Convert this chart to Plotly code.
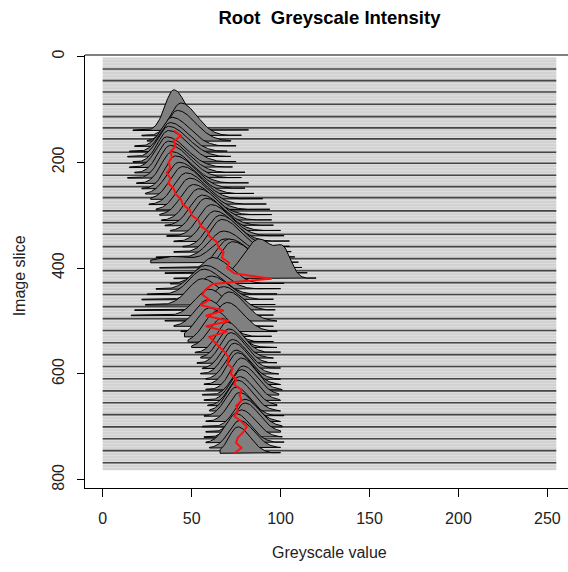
import numpy as np
import plotly.graph_objects as go

# ---------------- data ----------------
slice_y = [140, 150, 160, 170, 180, 190, 200, 210, 220, 230, 240, 250, 260, 270, 280,
           290, 300, 310, 320, 330, 340, 350, 360, 370, 380, 390, 400, 410, 420, 430,
           440, 450, 460, 470, 480, 490, 500, 510, 520, 530, 540, 550, 560, 570, 580,
           590, 600, 610, 620, 630, 640, 650, 660, 670, 680, 690, 700, 710, 720, 730,
           740, 750]
# position of each ridge's peak (greyscale value)
peak_x = [40, 44, 42, 39, 38, 37, 37, 36, 37, 38, 39, 41, 43, 45, 47,
          49, 51, 54, 56, 58, 61, 63, 66, 67, 68, 69, 71, 73, 88, 62,
          58, 57, 61, 56, 68, 60, 71, 59, 70, 60, 64, 67, 70, 71, 72,
          73, 74, 75, 76, 78, 79, 78, 77, 76, 75, 77, 80, 80, 78, 75,
          77, 76]
# ridge height (image-slice units)
peak_h = [77, 62, 58, 55, 55, 58, 60, 58, 60, 62, 60, 62, 60, 62, 60,
          60, 58, 60, 58, 62, 60, 58, 60, 62, 50, 45, 55, 60, 75, 50,
          45, 48, 45, 50, 45, 50, 55, 50, 55, 55, 58, 55, 58, 55, 58,
          55, 58, 55, 60, 60, 55, 58, 55, 58, 55, 55, 52, 55, 52, 55,
          52, 50]
# spread left / right of the peak
spread_l = [5, 6, 6, 6, 6, 6, 6, 6, 6, 6, 6, 6, 7, 7, 7,
            7, 7, 7, 7, 7, 7, 7, 7, 7, 8, 8, 7, 7, 9, 8,
            8, 8, 8, 8, 8, 8, 7, 7, 7, 7, 7, 7, 6, 6, 6,
            6, 6, 6, 6, 6, 6, 6, 6, 6, 6, 6, 6, 6, 6, 6,
            6, 5]
spread_r = [7, 9, 10, 10, 10, 11, 11, 11, 11, 11, 11, 11, 11, 11, 11,
            11, 11, 11, 11, 11, 11, 11, 11, 11, 11, 12, 12, 12, 9, 10,
            10, 10, 10, 10, 9, 9, 9, 9, 9, 9, 8, 8, 8, 8, 8,
            8, 8, 8, 8, 8, 8, 8, 8, 8, 8, 8, 8, 8, 8, 8,
            8, 7]
# secondary bump (0 height = none)
bump_x = [0] * 25 + [40, 0, 0, 102] + [0] * 33
bump_h = [0] * 25 + [12, 0, 0, 38] + [0] * 33
bump_s = [1] * 25 + [10, 1, 1, 4] + [1] * 33
# extent of the low tails at each baseline
tail_lo = [17, 22, 25, 18, 15, 14, 17, 15, 18, 14, 19, 22, 24, 27, 26,
           30, 32, 33, 35, 38, 36, 40, 45, 40, 30, 27, 32, 35, 40, 38,
           30, 25, 22, 24, 18, 16, 35, 40, 44, 46, 48, 50, 52, 55, 53,
           56, 55, 58, 57, 58, 56, 57, 59, 60, 57, 58, 56, 58, 57, 58,
           60, 66]
tail_hi = [82, 78, 72, 75, 70, 72, 75, 73, 80, 78, 82, 80, 85, 90, 92,
           94, 95, 95, 96, 100, 102, 105, 105, 106, 108, 110, 112, 115, 120, 102,
           100, 98, 96, 97, 97, 96, 98, 96, 98, 95, 96, 98, 100, 96, 98,
           100, 99, 100, 100, 101, 99, 100, 98, 100, 102, 100, 101, 100, 101, 102,
           100, 100]
# red trace through the slices
red_x = [40, 44, 40, 41, 38, 39, 37, 38, 36, 38, 37, 40, 41, 44, 45,
         49, 50, 54, 55, 59, 60, 64, 65, 68, 67, 71, 70, 74, 95, 62,
         58, 56, 60, 55, 68, 58, 71, 58, 70, 60, 63, 66, 69, 71, 70,
         73, 72, 75, 74, 78, 77, 78, 75, 76, 74, 78, 81, 79, 76, 75,
         78, 74]
# dark baseline lines
dark_lines = [23.6, 45.7, 67, 90.2, 113.6, 135, 155.8, 181, 201.7, 224.4, 245.9,
              266.7, 291.9, 314, 335.9, 359.3, 382, 404.7, 427.4, 450, 472.8, 495.5,
              518, 541, 563.6, 586, 609, 632, 654.5, 677, 700, 722.6, 745, 768]
x_ticks = [0, 50, 100, 150, 200, 250]
y_ticks = [0, 200, 400, 600, 800]

fig = go.Figure()

# light background band
fig.add_shape(type="rect", x0=0, x1=255, y0=3, y1=782, fillcolor="#dddddd",
              line=dict(width=0), layer="below")
light = np.arange(3, 782, 5.67)
lx, ly = [], []
for v in light:
    lx += [0, 255, None]
    ly += [v, v, None]
fig.add_trace(go.Scatter(x=lx, y=ly, mode="lines", line=dict(color="#c8c8c8", width=1),
                         hoverinfo="skip", showlegend=False))
dx, dy = [], []
for v in dark_lines:
    dx += [0, 255, None]
    dy += [v, v, None]
fig.add_trace(go.Scatter(x=dx, y=dy, mode="lines", line=dict(color="#454545", width=1.6),
                         hoverinfo="skip", showlegend=False))

# ridges
for i, y0 in enumerate(slice_y):
    xs = np.arange(tail_lo[i], tail_hi[i] + 0.01, 0.5)
    sd = np.where(xs < peak_x[i], spread_l[i], spread_r[i])
    f = peak_h[i] * np.exp(-0.5 * ((xs - peak_x[i]) / sd) ** 2)
    f = f + bump_h[i] * np.exp(-0.5 * ((xs - bump_x[i]) / bump_s[i]) ** 2)
    f = np.maximum(f, 1.2)
    px = list(xs) + [xs[-1], xs[0], xs[0]]
    py = list(y0 - f) + [y0, y0, y0 - f[0]]
    fig.add_trace(go.Scatter(x=px, y=py, mode="lines", fill="toself",
                             fillcolor="#808080", line=dict(color="black", width=1),
                             hoverinfo="skip", showlegend=False))

fig.add_trace(go.Scatter(x=red_x, y=slice_y, mode="lines",
                         line=dict(color="#ff1010", width=2), hoverinfo="skip",
                         showlegend=False))

fig.update_layout(
    width=568, height=572,
    margin=dict(l=85, r=0, t=55, b=84),
    paper_bgcolor="white", plot_bgcolor="white",
    font=dict(family="Liberation Sans, Arial, sans-serif", size=16, color="#222"),
    title=dict(text="<b>Root  Greyscale Intensity</b>", x=0.58, xref="container",
               y=1 - 18 / 572, yref="container", xanchor="center", yanchor="middle",
               font=dict(size=18.5, color="black")),
    showlegend=False,
)
fig.update_xaxes(range=[-9.95, 261.6], tickvals=x_ticks, ticks="outside", ticklen=8,
                 ticklabelstandoff=8,
                 showline=True, linecolor="black", linewidth=1, showgrid=False,
                 zeroline=False, tickcolor="black")
fig.update_yaxes(range=[815.6, -2.8], tickvals=y_ticks, ticks="outside", ticklen=7,
                 ticklabelstandoff=7,
                 tickangle=-90, showline=True, linecolor="black", linewidth=1,
                 showgrid=False, zeroline=False, tickcolor="black")
fig.add_shape(type="line", xref="paper", yref="paper", x0=0, x1=1, y0=1, y1=1,
              line=dict(color="black", width=1))
fig.add_annotation(text="Greyscale value", xref="paper", yref="paper",
                   x=(329.6 - 85) / 483, y=-(553 - 488.3) / 433.3, showarrow=False,
                   xanchor="center", yanchor="middle", font=dict(size=16))
fig.add_annotation(text="Image slice", xref="paper", yref="paper",
                   x=-(85 - 19) / 483, y=1 - (276.5 - 55) / 433.3, showarrow=False,
                   textangle=-90, xanchor="center", yanchor="middle", font=dict(size=16))

fig.write_html("out.html")
